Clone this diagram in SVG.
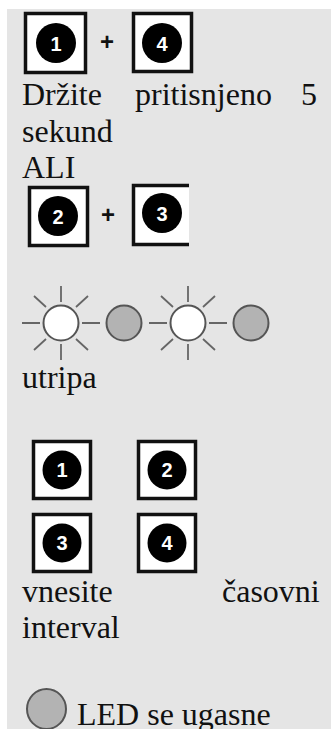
<svg xmlns="http://www.w3.org/2000/svg" width="331" height="729" viewBox="0 0 331 729">
<style>
.t{font-family:"Liberation Serif","Times New Roman",serif;font-size:32px;fill:#111}
.k{fill:#fff;stroke:#111;stroke-width:3.5}
.c{fill:#000}
.n{font-family:"Liberation Sans",Arial,sans-serif;font-weight:bold;font-size:20px;fill:#fff;text-anchor:middle}
.p{font-family:"Liberation Sans",Arial,sans-serif;font-weight:bold;font-size:24px;fill:#111;text-anchor:middle}
.on{fill:#fff;stroke:#555;stroke-width:2}
.off{fill:#b3b3b3;stroke:#555;stroke-width:2}
.r{stroke:#666;stroke-width:1.8;fill:none}
</style>
<defs>
<g id="rays"><path class="r" d="M0-37V-21M0 21V37M-39 0H-21M21 0H39M-27-27L-15-16M27-27L15-16M-27 27L-15 16M27 27L15 16"/></g>
</defs>
<rect x="7" y="9" width="324" height="720" fill="#e5e5e5"/>
<g id="key-1a"><rect class="k" x="25.500" y="13.500" width="60" height="59"/><circle class="c" cx="56" cy="43" r="20"/><text class="n" x="56" y="51">1</text></g>
<text class="p" x="107" y="50">+</text>
<g id="key-4a"><rect class="k" x="133.500" y="13.500" width="58" height="58"/><circle class="c" cx="162" cy="43" r="20"/><text class="n" x="162" y="51">4</text></g>
<text class="t" x="22" y="105">Držite</text>
<text class="t" x="135" y="105">pritisnjeno</text>
<text class="t" x="301" y="105">5</text>
<text class="t" x="22" y="142">sekund</text>
<text class="t" x="22" y="178">ALI</text>
<g id="key-2a"><rect class="k" x="29.500" y="187.500" width="58" height="58"/><circle class="c" cx="58" cy="216" r="20"/><text class="n" x="58" y="223.500">2</text></g>
<text class="p" x="108" y="223">+</text>
<g id="key-3a"><path d="M189 185.500H133.500V244.500H189Z" fill="#fff"/><path d="M189 185.500H133.500V244.500H189" fill="none" stroke="#111" stroke-width="3.500"/><circle class="c" cx="162" cy="213" r="20"/><text class="n" x="162" y="220.500">3</text></g>
<g id="led-on-1"><use href="#rays" x="61" y="323"/><circle class="on" cx="61" cy="323" r="17.500"/></g>
<g id="led-off-1"><circle class="off" cx="124" cy="323" r="17.500"/></g>
<g id="led-on-2"><use href="#rays" x="188" y="323"/><circle class="on" cx="188" cy="323" r="17.500"/></g>
<g id="led-off-2"><circle class="off" cx="251" cy="323" r="17.500"/></g>
<text class="t" x="22" y="388">utripa</text>
<g id="key-1b"><rect class="k" x="33.500" y="441.500" width="57" height="57"/><circle class="c" cx="62" cy="470" r="19.500"/><text class="n" x="62" y="477">1</text></g>
<g id="key-2b"><rect class="k" x="138.500" y="441.500" width="57" height="57"/><circle class="c" cx="167" cy="470" r="19.500"/><text class="n" x="167" y="477">2</text></g>
<g id="key-3b"><rect class="k" x="33.500" y="514.500" width="57" height="57"/><circle class="c" cx="62" cy="543" r="19.500"/><text class="n" x="62" y="550">3</text></g>
<g id="key-4b"><rect class="k" x="138.500" y="514.500" width="57" height="57"/><circle class="c" cx="167" cy="543" r="19.500"/><text class="n" x="167" y="550">4</text></g>
<text class="t" x="22" y="602">vnesite</text>
<text class="t" x="222" y="602">časovni</text>
<text class="t" x="22" y="638">interval</text>
<g id="led-off-3"><ellipse class="off" cx="46.500" cy="709" rx="19.500" ry="20"/></g>
<text class="t" x="77" y="725">LED se ugasne</text>
</svg>
